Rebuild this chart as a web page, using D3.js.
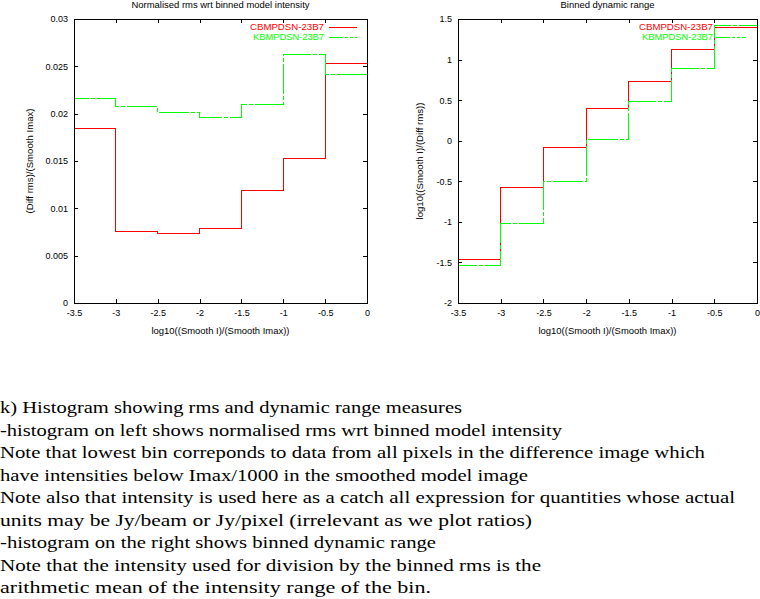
<!DOCTYPE html>
<html>
<head>
<meta charset="utf-8">
<script src="https://cdn.jsdelivr.net/npm/d3@7"></script>
<style>
  html, body { margin: 0; padding: 0; background: #fff; }
  svg { display: block; }
  .ax text { font-family: "Liberation Sans", Arial, sans-serif; font-size: 9px; fill: #000; }
  .lbl { font-family: "Liberation Sans", Arial, sans-serif; font-size: 9px; fill: #000; }
  .cap { font-family: "Liberation Serif", "Times New Roman", serif; font-size: 16.5px; fill: #000; }
</style>
</head>
<body>
<svg id="chart" width="760" height="599"></svg>
<script>
// ---------------- data ----------------
const binEdges = [-3.5, -3, -2.5, -2, -1.5, -1, -0.5, 0];
const seriesNames = ["CBMPDSN-23B7", "KBMPDSN-23B7"];
// left: normalised rms wrt binned model intensity
const rmsCBM = [0.0184, 0.00756, 0.00735, 0.00791, 0.01192, 0.01525, 0.02525];
const rmsKBM = [0.02162, 0.02077, 0.02014, 0.01961, 0.02099, 0.0263, 0.02415];
// right: binned dynamic range
const drCBM = [-1.463, -0.578, -0.078, 0.393, 0.729, 1.125, 1.40];
const drKBM = [-1.537, -1.02, -0.504, 0.012, 0.479, 0.8875, 1.425];
// tick values
const xTicks = [-3.5, -3, -2.5, -2, -1.5, -1, -0.5, 0];
const yTicksLeft = [0, 0.005, 0.01, 0.015, 0.02, 0.025, 0.03];
const yTicksRight = [-2, -1.5, -1, -0.5, 0, 0.5, 1, 1.5];
// texts
const titles = ["Normalised rms wrt binned model intensity", "Binned dynamic range"];
const xLabel = "log10((Smooth I)/(Smooth Imax))";
const yLabels = ["(Diff rms)/(Smooth Imax)", "log10((Smooth I)/(Diff rms))"];
const captionLines = [
  "k) Histogram showing rms and dynamic range measures",
  "-histogram on left shows normalised rms wrt binned model intensity",
  "Note that lowest bin correponds to data from all pixels in the difference image which",
  "have intensities below Imax/1000 in the smoothed model image",
  "Note also that intensity is used here as a catch all expression for quantities whose actual",
  "units may be Jy/beam or Jy/pixel (irrelevant as we plot ratios)",
  "-histogram on the right shows binned dynamic range",
  "Note that the intensity used for division by the binned rms is the",
  "arithmetic mean of the intensity range of the bin."
];
const captionWidths = [462, 562, 705, 528, 735, 532, 436, 541, 431];

// ---------------- drawing ----------------
const svg = d3.select("#chart");
const colors = ["#ff0000", "#00ff00"];
const dashes = [null, "30,2,4,2"];

function stepPoints(vals) {
  const pts = [[binEdges[0], 0]];
  vals.forEach((v, i) => { pts.push([binEdges[i], v]); pts.push([binEdges[i + 1], v]); });
  return pts;
}

function panel(cfg) {
  const { x0, x1, y0, y1, yDomain, yTicks, series, title, titleW, yLabel, yLabelW, yLabelX, legendTextX, legendLine } = cfg;
  const x = d3.scaleLinear().domain([-3.5, 0]).range([x0, x1]);
  const y = d3.scaleLinear().domain(yDomain).range([y1, y0]);
  const fmt = d => String(d);

  // data lines
  const line = d3.line().x(d => x(d[0])).y(d => y(d[1]));
  series.forEach((vals, i) => {
    svg.append("path").attr("d", line(stepPoints(vals)))
      .attr("fill", "none").attr("stroke", colors[i]).attr("stroke-width", 1)
      .attr("stroke-dasharray", dashes[i]).attr("shape-rendering", "crispEdges");
  });

  // axes (ticks inward, mirrored)
  const gB = svg.append("g").attr("class", "ax").attr("transform", `translate(0,${y1})`)
    .call(d3.axisBottom(x).tickValues(xTicks).tickFormat(fmt).tickSizeInner(-4).tickSizeOuter(0).tickPadding(7));
  const gT = svg.append("g").attr("class", "ax").attr("transform", `translate(0,${y0})`)
    .call(d3.axisTop(x).tickValues(xTicks).tickFormat("").tickSizeInner(-4).tickSizeOuter(0));
  const gL = svg.append("g").attr("class", "ax").attr("transform", `translate(${x0},0)`)
    .call(d3.axisLeft(y).tickValues(yTicks).tickFormat(fmt).tickSizeInner(-4).tickSizeOuter(0).tickPadding(6));
  const gR = svg.append("g").attr("class", "ax").attr("transform", `translate(${x1},0)`)
    .call(d3.axisRight(y).tickValues(yTicks).tickFormat("").tickSizeInner(-4).tickSizeOuter(0));
  [gB, gT, gL, gR].forEach(g => {
    g.selectAll(".domain").remove();
    g.selectAll("line").attr("stroke", "#000").attr("shape-rendering", "crispEdges");
    g.selectAll("text").attr("font-family", null).attr("font-size", null);
  });
  svg.append("rect").attr("x", x0 + 0.5).attr("y", y0 + 0.5)
    .attr("width", x1 - x0).attr("height", y1 - y0)
    .attr("fill", "none").attr("stroke", "#000").attr("stroke-width", 1)
    .attr("shape-rendering", "crispEdges");

  // title & labels
  svg.append("text").attr("class", "lbl").attr("x", (x0 + x1) / 2).attr("y", 8)
    .attr("text-anchor", "middle").attr("textLength", titleW).attr("lengthAdjust", "spacingAndGlyphs").text(title);
  svg.append("text").attr("class", "lbl").attr("x", (x0 + x1) / 2).attr("y", 334)
    .attr("text-anchor", "middle").attr("textLength", 138).attr("lengthAdjust", "spacingAndGlyphs").text(xLabel);
  svg.append("text").attr("class", "lbl")
    .attr("transform", `translate(${yLabelX},${(y0 + y1) / 2}) rotate(-90)`)
    .attr("text-anchor", "middle").attr("textLength", yLabelW).attr("lengthAdjust", "spacingAndGlyphs").text(yLabel);

  // legend
  seriesNames.forEach((name, i) => {
    const ly = 27 + i * 10;
    svg.append("text").attr("class", "lbl").attr("x", legendTextX).attr("y", ly + 3)
      .attr("text-anchor", "end").style("fill", colors[i])
      .attr("textLength", i === 0 ? 74 : 71).attr("lengthAdjust", "spacingAndGlyphs").text(name);
    svg.append("line").attr("x1", legendLine[0]).attr("x2", legendLine[1])
      .attr("y1", ly + 0.5).attr("y2", ly + 0.5)
      .attr("stroke", colors[i]).attr("stroke-width", 1)
      .attr("stroke-dasharray", dashes[i] ? "14,2,3,2,3,2" : null).attr("shape-rendering", "crispEdges");
  });
}

panel({ x0: 74, x1: 367, y0: 19, y1: 303, yDomain: [0, 0.03], yTicks: yTicksLeft,
  series: [rmsCBM, rmsKBM], title: titles[0], titleW: 178, yLabel: yLabels[0], yLabelW: 105, yLabelX: 33,
  legendTextX: 324, legendLine: [329, 357] });
panel({ x0: 458, x1: 757, y0: 19, y1: 303, yDomain: [-2, 1.5], yTicks: yTicksRight,
  series: [drCBM, drKBM], title: titles[1], titleW: 94, yLabel: yLabels[1], yLabelW: 117, yLabelX: 423,
  legendTextX: 713, legendLine: [716, 746] });

// caption
captionLines.forEach((t, i) => {
  svg.append("text").attr("class", "cap").attr("x", 0).attr("y", 413 + i * 22.5)
    .attr("textLength", captionWidths[i]).attr("lengthAdjust", "spacingAndGlyphs")
    .text(t);
});
</script>
</body>
</html>
